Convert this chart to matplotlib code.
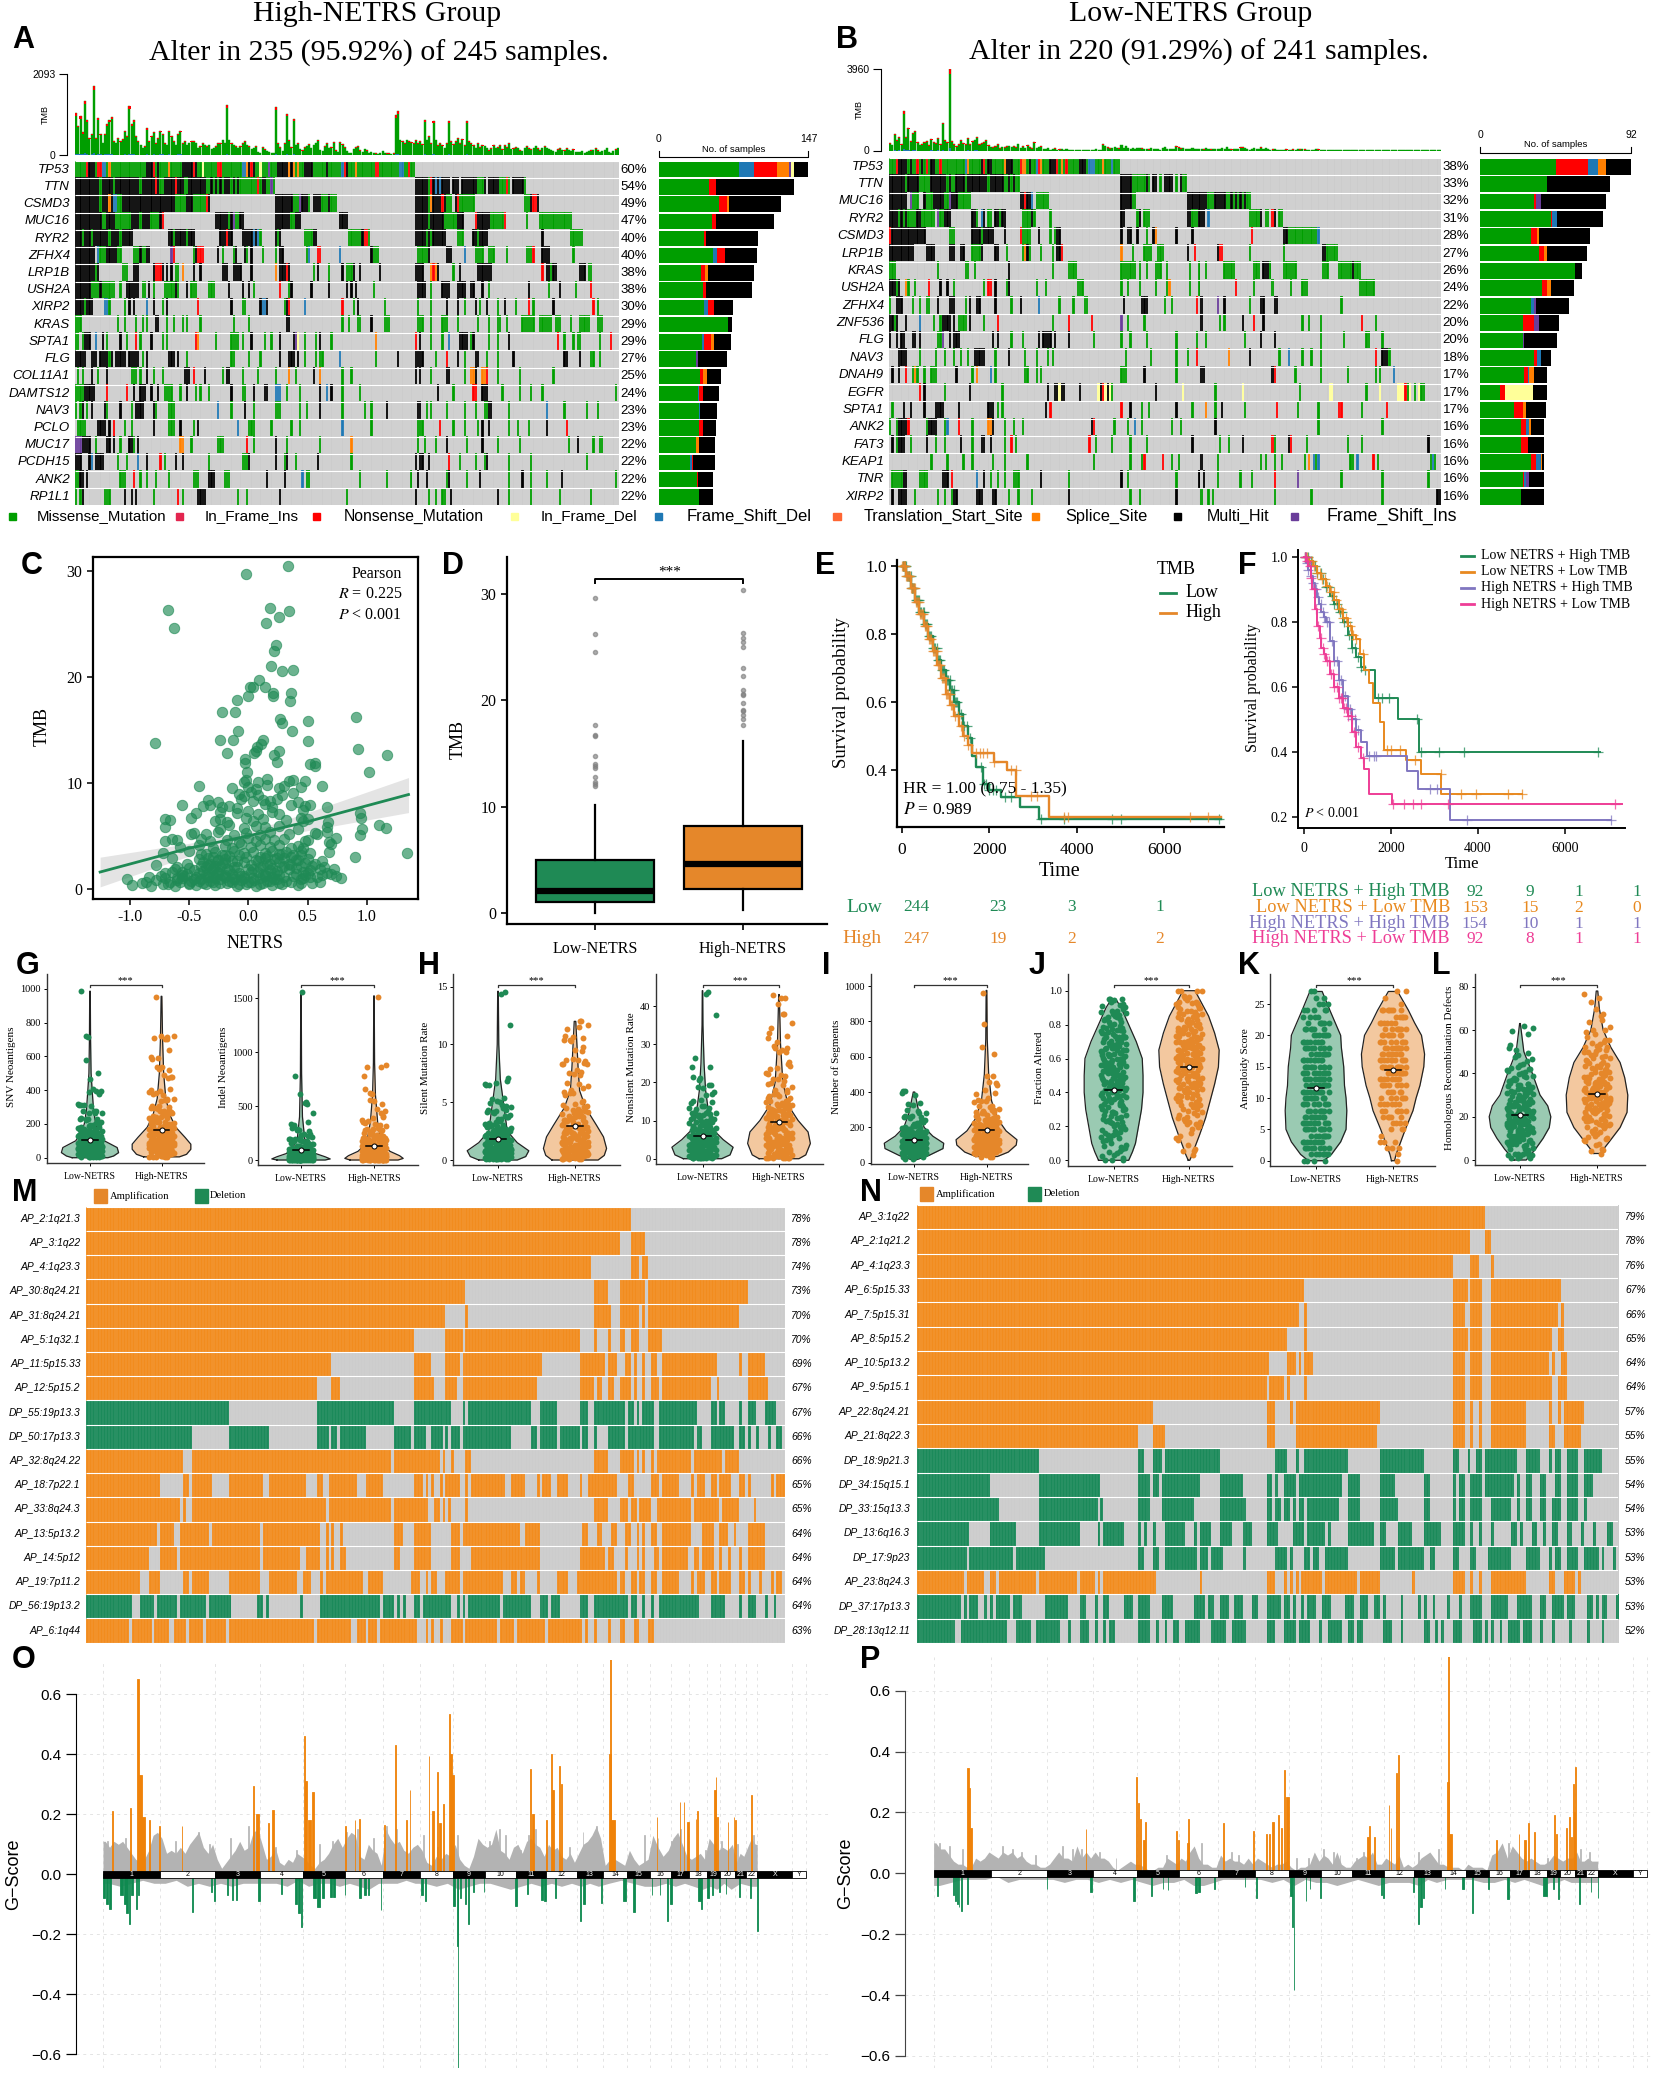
import numpy as np
import matplotlib
matplotlib.use("Agg")
import matplotlib.pyplot as plt
from matplotlib.colors import ListedColormap
from matplotlib.patches import Rectangle

W, H = 1654, 2075
SERIF = "Liberation Serif"
SANS = "Liberation Sans"
GREEN, ORANGE = "#1F8A55", "#E5872A"
PURPLE, PINK = "#8076C0", "#EE3D96"

# ---------- A / B oncoplots ----------
ONCO_COLORS = {"G": "#009E00", "I": "#E3254F", "R": "#FF0000", "Y": "#FFFF99", "B": "#1F78B4",
               "T": "#FF6633", "O": "#FF7F00", "K": "#000000", "P": "#6A3D9A"}
A_GENES = ["TP53", "TTN", "CSMD3", "MUC16", "RYR2", "ZFHX4", "LRP1B", "USH2A", "XIRP2", "KRAS",
           "SPTA1", "FLG", "COL11A1", "DAMTS12", "NAV3", "PCLO", "MUC17", "PCDH15", "ANK2", "RP1L1"]
A_PCT = [60, 54, 49, 47, 40, 40, 38, 38, 30, 29, 29, 27, 25, 24, 23, 23, 22, 22, 22, 22]
A_ROWS = [
 "G0-152 R5 K6-8 R10 R11 B12 B13 O15 K32-34 R35 K37 O42 K48-52 R53 K54 Y57 R64-65 B75 B76 O77 K78 R79 K80 Y83 P87 K91-95 O96 K97 O98 O100 K103-106 K113 B120 R121 K122 O126 R135-136 B146 B147 R150",
 "K0-58 G11 G17 G29 G38 G39 R45 G49 G50 R36 G59-89 K61 K63 K65 K67-69 K71 K73 R82 K84-85 P88 K153-158 G159 R160 K161 B162 K163-168 B164 K170-172 K174-180 G181-183 K184 K186-190 G191-193 R194 G195 K197-201 G202",
 "K0-44 O15 B17 B18 G11 G19 G20 G45-58 K50-52 R59 K60 K90-97 G98-100 K101-104 P101 G105 K107-110 G111-113 K114 G115-117 K153-158 G159 O160 K161-166 R165 G167-169 K171 R172 G173-179 G202-204 K205 R206-207 K208",
 "K0-11 G12-13 K14-17 G18-24 K25-28 G29 K30-33 G34-37 K38 R39 K63-68 G69 K70 P71 G72-73 K74-75 K90-96 G97-98 K99-101 K119-122 K153-158 G159 K160-165 G166-171 K172-174 R180 K181-186 G187-192 R193 G203 G209-223",
 "K0-25 G3 G7 G15 G20 K42-53 G44 G50 K65-67 R68 K69-70 K75-79 K81 B80 B82 G83 K90 G91 K92 G103-106 K107-108 G123-128 K129 R130-131 G132 K153-166 G158 G160 G172-174 K179-180 G181 K182-185 K210 G223-228",
 "K0-8 B10 G11-13 K14-18 G19-20 G26-28 K29 G30-31 K32-33 P43 R44 G53 K54 R55-57 K64 G66 G71 K72 K76 G77 K79 G84 G90 K92-93 G104 B105 R109-110 B119 K133 G134-136 G154-158 K159 K167-169 B175 G180-183 G186-188 G194 G203-205 R206 K210-213 G224",
 "K0-8 G9 K10 G21-23 K26-28 K35 R36-38 K39 K41 K43 G45-46 O48 K53 K56 K66-68 K71-74 K79 O90 K92-94 R95 K96 G107 K109 G114 K120 G122-124 K125 K128 K137 K153-156 O160-162 R161 K163 G170 K173 K181-187 R210 K212-213 G214 K215-216 K227-229 G231-232",
 "K0-6 G7-10 K11 G12-17 G20 K23-28 G30-31 K33 G35 G40-46 K45 K50 G52-54 G60-62 K69 K75 K78 G80 R92 G96 K97 K106 K114 K122 K124 K126 G134 K154-157 G160 K165-168 K172-175 K178-179 K183 G186 K204 G213 K218 G225 R232",
 "K0-3 G4 K5-7 B13-14 G15 G22 K24 K26 B32 K35 G39 K41 R55 K70 G75-76 K83 B84-85 K86 G94 K95 R96 B103 R120 G125 K127 G139 G154 G160 K167 K172 G175 K180 G182 K185 G190 K193 G198 R204 G206 K215 R233 G235",
 "G0-2 G19 G22 G27 G30 G32 K36-37 G41 G44 G48 G50 G56 G71 G78 K95-96 G120 G123 G127-128 K133 G139-141 G154-156 G160 G165-167 G172 G181 G186 G190-191 G194 G201-206 G209-214 G216-218 G223 G227-231 G235-237",
 "G0-1 G3 K4-6 B9 K12 G14 K20 G23 R27 G29 K34 G39 G41 R54 O55 G63 G70-73 G75 K79 G85 G88 K92 K98 P99 Y100 G103 G108 K110 G115 O135 R153 K155 G160 G165 B168 K173-176 G178 K179 G186 G190 K195 R217 G220 G224 G226-227 G236 R241",
 "K0-4 K7-9 K11-14 G15 K16 K18-22 K24-28 G30 K32 K42-44 K46 G50 G70-71 G78 G83 K92 K96-98 K100 G103 G108 G110-111 B119 G135 K145 K153-156 G162 R167 K172 G175 K180-181 G185 G190 K197 K220-221 K227 G232-233 G236",
 "G1 G3 K7 G10 K14 G25-27 G29 K32 G35 G39 K49-51 R53 K58 G66 K68-69 G75 G82 G90 O96 G99 K107 O110 G120 G124 K153 K155 G160 K167-168 G175 O178-179 K180 O183-184 R185 G190 G200 G215",
 "G0-3 K4-8 R14 R23 K26 K29-31 K34 K37 G40-43 G47 K50 G54 G56 G60 K70 G75-76 K80 K85-86 B90-92 G95 G101 K110 B113 K115 G120 G128 K163 G170 R179-180 K183-185 G192 G200 G205 G210 G243",
 "G0 G2 K3 G5 K7 K13 G14 K20 G25 K27-30 K35 G36 G42-44 B64 G70 K76 G80 G90-92 G101 G104 K110 G120 G130 G133 K140 K154-155 G158 G160 G167 G175 G180 G184-185 K186-187 G195 B212 G220 G230 G235",
 "G1-4 K10-13 K15 R17 G22 G25 K35 G42-44 K47 G53 K55 B73 G78-80 G88 G97 G101 B120 G133 G154-156 R164 G170 G175 G181 K183 K186 G195 G199 G204 K212 R221",
 "P0-2 K3-6 G9 K14-15 K17 G20 K24 K25 G26 K28 O47-48 G52 G64-66 R77 G80 K90 G95 G110 O124 G154 G157 G162 K167 G176 K183 G190 G200 G222 K226 G233 G236-237",
 "K0-2 K6 B7 K9-12 G19 G23 B28 K32 R38 G40 K45 K48 G60 G75-77 K78 K90 G94 K95 G99 K109 G124 K153 K155-156 K159 R168 G173 G180 G184 K185 G195 G205 G230",
 "G0-1 K2-3 K5 G20-22 R26 G29 G32 G36 G42 G53-55 K60-62 G67-69 K86 K94 B102 G104-105 G128 G140 G151 K154 K158 G167 K168 G176 K182 G195 K201 G205 G212 K219 G243",
 "G0 G2 K3 G13-15 K22 K25 K27 G35 R46 G48 K55-58 G73 G77 K92 G122 K153 G159 G162 G165-166 K169 K190 G195 G205 G218 G232",
]
A_BAR_CODES = ["G", "B", "R", "O", "P", "Y", "K"]
A_BARS = [[79, 15, 22, 12, 2, 3, 14], [50, 0, 6, 0, 0, 0, 77], [59, 0, 8, 2, 0, 0, 51], [52, 0, 4, 0, 0, 0, 57],
          [45, 0, 2, 0, 0, 0, 51], [53, 4, 8, 0, 0, 0, 32], [42, 0, 4, 3, 0, 0, 45], [44, 0, 3, 0, 0, 0, 45],
          [45, 4, 5, 0, 0, 0, 19], [68, 0, 0, 0, 0, 0, 4], [43, 2, 6, 3, 0, 0, 17], [37, 0, 0, 0, 2, 0, 28],
          [41, 0, 3, 4, 0, 0, 13], [39, 1, 4, 0, 0, 0, 15], [40, 1, 0, 0, 0, 0, 16], [40, 0, 4, 0, 0, 0, 12],
          [37, 0, 0, 3, 0, 0, 15], [31, 2, 1, 0, 0, 0, 21], [38, 0, 1, 0, 0, 0, 14], [40, 0, 0, 0, 0, 0, 13]]
A_TMB = [1080,760,1000,590,1400,900,450,540,1780,450,950,540,320,540,810,900,990,360,320,450,360,410,630,500,1260,810,900,500,360,270,
         180,230,700,360,500,600,300,450,630,540,300,270,630,500,360,270,540,630,300,360,270,320,360,360,320,180,230,300,270,220,
         270,160,180,230,300,300,400,320,1280,400,300,270,230,180,230,300,360,270,230,160,180,230,90,60,200,150,100,70,50,60,
         1230,300,200,110,300,1060,380,200,930,270,300,160,120,200,240,280,180,270,320,380,140,100,220,300,180,200,340,120,90,330,
         280,200,100,50,60,160,200,230,120,90,160,120,60,80,50,40,30,50,100,60,40,40,30,40,1030,1130,400,350,300,400,
         370,330,300,380,300,350,280,900,400,500,300,870,400,250,300,250,180,300,870,350,280,350,450,300,420,250,880,350,300,250,
         180,300,200,260,240,180,120,170,250,180,200,260,150,250,200,300,160,170,200,180,120,100,180,220,170,150,190,240,170,120,
         180,230,190,160,130,110,90,150,170,140,120,170,130,110,150,90,70,80,100,60,70,110,120,130,170,120,80,100,130,180,90,60,110,150,180]
B_GENES = ["TP53", "TTN", "MUC16", "RYR2", "CSMD3", "LRP1B", "KRAS", "USH2A", "ZFHX4", "ZNF536",
           "FLG", "NAV3", "DNAH9", "EGFR", "SPTA1", "ANK2", "FAT3", "KEAP1", "TNR", "XIRP2"]
B_PCT = [38, 33, 32, 31, 28, 27, 26, 24, 22, 20, 20, 18, 17, 17, 17, 16, 16, 16, 16, 16]
B_ROWS = [
 "G0-100 R3 K4-7 K9 R12 K14 R16 K18-19 R22 B33 O34 K40 R41 K43-44 O50 K51-53 R57 O58-59 K61 B64 R65 O66 K70-72 R73 O75 R77 K83-85 B87-89 O93 B97",
 "K0-6 G7 K8-12 G13-17 K18-24 G25 K26 G27-28 K29-32 G33 K34-42 G43 K44-49 G50-56 K52 K54 K101-105 G106-111 K112 G113 K115-116 G118 K120-123 G125 K127 G128-129",
 "K0-7 P9 G10-12 K15 G16-18 K19-23 G24-25 P26 K27-29 G30-35 K57-59 R59 K60-62 B62 G64-69 K101-105 G106-107 K130-138 G139-141 K142-146 G147-157 K149 K151 K153 K155",
 "K0-3 G4 K5 G6 K7 G8-11 K12-13 G14-19 P21 G22-23 K24-26 K36-37 G38 B40 K41 G43-44 K46-47 G48 K49-50 G58-61 K62 G63 G70 K101-102 G108 K109 G111-113 K130-131 G132-134 K135-137 B139 G157-161 K162 G164-165 R167 K168 G170-171",
 "R0 K1-15 G26-28 K36-39 G40 K41-45 K50 R57 G58-61 K65 G70 G72 K73-74 K101 K104-105 K108 G112 K115 O116 K125 K132 R158 K172-173 G174-186 B187",
 "K0-10 K16-19 K26-28 K31-32 G36-39 K40 K46-47 G51 G58 O59 K60 G61 G66 G71 K73-74 R75 O101 G106 G111-114 G117-119 K130 R133 K143 R144-145 G157 G172 K189-190 G191-195",
 "G0-2 G21 G33-34 G37 K52 G71 G78-81 G101-107 G109 G112 G116-118 G121 G131 G135 G138 G146-150 G159-161 K163-165 G166 G172-177 G189-191 G196-201 K202 G203-205",
 "K0-2 G3 K4 O7 G8 G11 R17 K22 K25 G28 G41 R43-44 K46 G51 K52 G64 G68 G82-84 G101 G104 G109 G116 G121 O122 G131 G135 R151 G159 G167 G175 G180-182 G205-211",
 "G0 K3-5 G10 G13 G16-17 K21 K26-28 G33 K35 K38-39 K46 G53 K57 B65 G74 G80 G85-86 K102 K110-112 G120 G123 R134 K136 P143 K146 G157 K162-163 K168-169 G197",
 "K0-1 G2 K3 K7 B13 G19 G22 K23-26 K28 G30-33 K35 G41 R47 G71 R78 R88 P101 G104 G111 K136 G144 G146 K154 R159 K163 G180 G183 G188 R206 G212",
 "K0 K3 K5-6 K10-11 K13 G21-22 P23 K26 K28-30 K45 K47 G53 G58 K65 K67-70 K72 K78 G89 G101 G105 G112 G125 G134 G138 G155 K162 K168 G188 G198 G208-209 G215",
 "K4-7 G13 G20 G24 G28 G31 G34 K37-41 G46 K52 G59 G64 G69 G71 G103 G114 G125 G130 R134 O148 K157 G170 B174 G180 G184 G188 R212 K215-217 G218",
 "K1 K4 R7 G10 O11 G12 G15 G18-20 K29 G36 O38 B44 G46 G59-60 G64 G66 G101-103 K111 G125 K136-137 K167 R168 G177 G188 G200 G212 G214 B220",
 "R13 K15 G24 K35 G49 K69 K72-73 Y74 K75-76 K83 Y91 K92 R93 Y94 K95 Y96 G97 K116 Y128 G142 Y154 G179 Y192-193 G208 Y214 Y222-224 R225 G226 Y227 G229 Y231 G232-233",
 "G1 K6 K9 K15 K20-23 K30 K43-45 G47 G49 K68 R70 R101 K105 G110 G113 K125 G132 O138 G142 K145 G155 R169 G178 G187 R196-197 G206 R217",
 "G0 G3 K4-7 R8 G16 K17-20 G24 B25 R30 G36 O43-44 K45 G50 G54 G58 K88 R89 G98 G104 B107 G110 G123 G127 K142 G187 G215",
 "K1 G3 K4-6 G9 K16 G20 G24 K31 G36 K40-41 K44 G50 R53 G55 R87 G90 G97 G105 G112 K132 G144 G148 K154 R167 G168 K174 R175 G182 G200 G206 K235",
 "G18 G25 G32 G36 G45 G50 G60 G89 G105 G110 R111 R119 G123 G126 K136 G143 G162 G164 G168 G171 G181 O183 B185 G186 B187 G201-202 B204 R211 G213 G236 B237 G238",
 "G1-5 K6-7 G13-16 K23-25 R27 B38 K41 G44 G47 G50 G54-56 K66 G78 K101 G104 G125 K135 K137 G143 G153 G158 R168 P178 G197 G215 G235",
 "K1 K4-7 G11 G21 G24 G27 K28-29 K38-40 K45-46 G52 G56 G62 K78 G105 G109 K125 G136 G139 G141 G168 G184 G215 K239-240",
]
B_BAR_CODES = ["G", "R", "B", "O", "P", "Y", "K"]
B_BARS = [[46, 20, 6, 5, 0, 0, 15], [41, 0, 0, 0, 0, 0, 38], [33, 1, 0, 0, 3, 0, 40], [43, 1, 3, 0, 0, 0, 28],
          [31, 4, 0, 1, 0, 0, 31], [36, 3, 0, 2, 0, 0, 24], [58, 0, 0, 0, 0, 0, 4], [38, 3, 0, 2, 0, 0, 14],
          [31, 0, 2, 0, 1, 0, 20], [26, 7, 0, 0, 3, 0, 12], [26, 0, 0, 0, 1, 0, 20], [33, 2, 2, 0, 0, 0, 6],
          [27, 2, 1, 3, 0, 0, 8], [12, 3, 0, 0, 0, 17, 9], [21, 5, 0, 2, 0, 0, 12], [25, 3, 2, 1, 0, 0, 8],
          [25, 4, 0, 0, 0, 0, 10], [31, 3, 3, 1, 0, 0, 1], [26, 1, 1, 0, 2, 0, 9], [25, 0, 0, 0, 0, 0, 14]]
B_TMB = [350,280,800,500,650,300,1900,650,1100,450,850,950,400,280,300,400,450,250,550,400,350,600,300,1350,500,400,3960,450,300,200,
         300,500,350,300,620,300,450,520,650,300,350,400,500,250,180,150,200,300,100,180,150,200,220,170,200,150,330,120,200,130,
         250,150,100,400,120,180,200,60,90,120,40,60,100,30,50,70,40,60,30,20,40,30,15,30,20,40,25,35,30,20,
         60,30,25,300,230,150,100,140,180,120,100,270,130,220,120,90,130,90,130,110,100,70,90,50,120,60,80,70,40,110,
         180,90,70,60,60,200,150,100,130,80,70,60,130,90,60,70,90,50,110,60,50,60,80,70,60,130,90,170,60,50,
         70,60,90,150,150,120,80,40,60,130,80,90,150,70,120,70,40,50,60,40,30,20,35,50,30,40,50,40,60,50,
         80,50,40,30,20,30,60,50,40,20,30,40,20,30,25,20,15,30,20,25,15,10,20,30,15,20,15,10,15,20,
         10,15,10,20,10,15,10,20,15,10,15,20,15,10,10,20,15,10,15,10,15,20,25,30,20,15,10,20,25,15,10]

# ---------- C scatter ----------
C_LEVEL_Y = [.4, .6, .8, 1.0, 1.2, 1.4, 1.7, 2.0, 2.2, 2.5, 2.8, 3.1, 3.4, 4.0, 4.6, 5.2, 5.8, 6.5, 7.2, 7.8, 8.3, 8.9, 9.6, 10.2]
C_LEVEL_X = [
 [-.98,-.9,-.82,-.72,-.62,-.5,-.44,-.36,-.28,-.18,-.1,-.02,.06,.12,.2,.28,.42,.54],
 [-.68,-.58,-.5,-.42,-.38,-.3,-.24,-.16,-.08,.0,.1,.18,.26,.36,.44],
 [-1.02,-.86,-.78,-.66,-.56,-.48,-.4,-.32,-.24,-.14,-.06,.02,.1,.16,.24,.32,.44,.6],
 [-.7,-.6,-.54,-.46,-.34,-.28,-.2,-.12,-.04,.05,.14,.22,.3,.46,.52],
 [-.84,-.74,-.6,-.52,-.44,-.36,-.3,-.22,-.12,-.04,.04,.12,.2,.26,.38,.48,.58,.74,.78],
 [-.64,-.56,-.42,-.34,-.26,-.2,-.14,-.06,.02,.14,.22,.4,.5,.62,.7],
 [-.7,-.62,-.56,-.46,-.38,-.3,-.26,-.16,-.08,.0,.08,.18,.24,.34,.46,.52,.66,.72],
 [-.5,-.36,-.3,-.24,-.18,-.1,.04,.12,.2,.28,.4,.54,.6],
 [-.78,-.6,-.52,-.4,-.34,-.28,-.22,-.12,.02,.1,.16,.3,.36,.44,.56,.64],
 [-.38,-.32,-.26,-.2,-.14,-.04,.08,.18,.26,.34,.42,.48],
 [-.64,-.42,-.34,-.26,-.2,-.1,-.02,.06,.14,.22,.3,.4,.5,.62],
 [-.4,-.3,-.22,-.16,-.08,.1,.16,.24,.28,.36,.44],
 [-.72,-.5,-.36,-.28,-.2,-.12,-.04,.04,.14,.2,.26,.32,.38,.44,.52,.68],
 [-.58,-.42,-.3,-.2,-.14,-.06,.02,.1,.18,.26,.36,.42,.46,.7],
 [-.7,-.64,-.6,-.4,-.32,-.18,-.08,.0,.06,.14,.22,.3,.48,.5,.68,.74],
 [-.48,-.46,-.36,-.26,-.12,-.02,.1,.18,.34,.56,.58,.66,.94],
 [-.7,-.24,-.16,-.04,.06,.14,.26,.42,.66,.96,1.1,1.16],
 [-.7,-.66,-.48,-.28,-.24,-.18,-.02,.04,.12,.32,.44,.46,.5,.67,.95],
 [-.44,-.24,-.1,.0,.08,.2,.26,.46,.94],
 [-.56,-.38,-.32,-.22,-.16,-.1,.14,.2,.36,.48,.52,.66],
 [-.34,-.26,-.06,.04,.12,.18,.24,.42],
 [-.08,-.04,.02,.08,.38,.28],
 [-.42,-.14,.0,.06,.16,.26,.3,.44,.62],
 [-.04,-.02,.08,.16,.34,.38,.48]]
C_LEVEL_SHIFT = [0, .15, -.1, .05, -.15, .2, -.05, .1]
C_TOP_X = [-.68,-.63,-.79,-.02,.33,.18,.34,.26,.15,.23,.22,.19,.28,.38,.09,.01,.04,.14,.21,.21,.36,.35,-.1,-.22,-.11,
           0,.27,.28,.5,.91,.37,-.09,-.24,-.13,.12,.11,.5,.07,.06,.26,.05,.92,-.18,.22,1.17,-.03,-.03,.24,.52,.56,.56,-.01,1.02,1.34,.9]
C_TOP_Y = [26.3,24.6,13.8,29.7,30.4,26.5,26.2,25.6,25.1,23,22.4,21,20.5,20.6,19.7,19,19,19,18.5,18.2,18.5,17.7,17.8,16.7,16.7,
           18.2,16,15.6,15.8,16.2,14.9,14.9,14,14,14,13.7,13.9,13.4,13,13,12.8,13.2,12.8,12.6,12.6,12.2,11.9,12,11.8,11.9,11.6,11,11,3.4,3.0]
C_FIT_X = [-1.25, -.5, 0, .5, 1.35]
C_FIT_Y = [1.6, 3.85, 5.0, 6.35, 8.9]
C_CI_LO = [.2, 3.1, 4.4, 5.5, 7.2]
C_CI_HI = [3.0, 4.3, 5.4, 7.2, 10.5]

# ---------- D box ----------
D_LABELS = ["Low-NETRS", "High-NETRS"]
D_Q1, D_MED, D_Q3 = [1.0, 2.3], [2.1, 4.6], [5.0, 8.2]
D_WLO, D_WHI = [0, .3], [10.2, 16.2]
D_FLIERS = [[11.9, 12.1, 12.3, 12.8, 13.6, 13.8, 14, 14.8, 16.6, 16.7, 17.7, 24.5, 26.2, 29.6],
            [17.7, 18.2, 18.6, 19, 19.1, 19.7, 20.5, 20.6, 21, 22.3, 23, 25, 25.5, 25.9, 26.3, 30.4]]

# ---------- E / F survival ----------
E_LOW_T = [0,100,200,300,400,500,600,700,800,900,1000,1100,1200,1300,1400,1500,1600,1700,1850,2000,2270,2700,3140,7300]
E_LOW_S = [1,.97,.935,.90,.865,.83,.795,.76,.725,.695,.665,.635,.60,.565,.53,.495,.44,.41,.36,.34,.32,.29,.255,.255]
E_HIGH_T = [0,100,200,300,400,500,600,700,800,900,1000,1100,1200,1300,1400,1500,1600,2100,2400,2620,3360,7300]
E_HIGH_S = [1,.97,.935,.895,.86,.825,.785,.75,.71,.67,.625,.59,.56,.53,.50,.475,.45,.425,.40,.323,.262,.262]
E_LOW_CENS = [15,30,45,60,75,90,110,130,150,170,195,220,240,260,285,310,335,360,390,420,445,470,495,520,550,580,610,640,670,700,730,760,790,820,850,880,910,940,970,1000,1030,1060,1090,1120,1150,1180,1210,1240,1270,1300,1360,1420,1480,1550,1800,1880,1920,2000,2080,2150,2350,2500,3170,3700,4800,5000,7250]
E_HIGH_CENS = [10,20,35,50,65,80,100,120,140,160,180,200,225,250,270,290,315,340,365,390,415,440,465,490,520,550,580,610,640,670,700,730,760,790,820,850,880,910,940,970,1000,1030,1060,1090,1120,1150,1220,1280,1350,1430,1500,1700,1780,1850,1950,2100,2500,2600,2950,3100,3700,3800,6600,7000]
F_GREEN_T = [0,100,200,300,400,500,600,700,800,900,1000,1100,1200,1300,1375,1625,2160,2650,6800]
F_GREEN_S = [1,.985,.97,.95,.93,.905,.88,.855,.83,.80,.76,.72,.69,.66,.65,.565,.50,.40,.40]
F_ORANGE_T = [0,100,200,300,400,500,600,700,800,900,1000,1100,1190,1280,1375,1500,1590,1750,1840,2340,2690,3160,5000]
F_ORANGE_S = [1,.985,.97,.95,.93,.91,.89,.865,.84,.81,.785,.76,.745,.70,.65,.61,.55,.49,.405,.375,.33,.27,.27]
F_PURPLE_T = [0,50,100,150,200,250,300,350,400,450,500,600,700,800,900,1000,1100,1200,1300,1440,2375,2625,3350,7050]
F_PURPLE_S = [1,.98,.96,.94,.92,.90,.875,.855,.83,.815,.80,.74,.68,.62,.57,.53,.50,.465,.43,.385,.34,.285,.19,.19]
F_PINK_T = [0,50,100,150,190,250,310,360,400,450,500,600,700,800,900,1000,1100,1190,1300,1375,1500,2030,7300]
F_PINK_S = [1,.985,.97,.935,.90,.84,.785,.75,.72,.70,.68,.64,.60,.565,.535,.51,.46,.415,.38,.345,.27,.238,.238]
F_GREEN_CENS = [20,50,90,120,170,250,300,380,440,500,570,640,700,760,820,870,930,980,1040,1100,1170,1250,1320,1400,1700,1800,1950,2600,2680,3100,3680,6750]
F_ORANGE_CENS = [30,70,120,180,240,300,360,420,480,540,610,680,740,800,850,900,970,1050,1120,1200,1350,1900,2000,2200,2550,3150,3600,3950,4700,5000]
F_PURPLE_CENS = [20,60,100,150,200,280,330,380,430,470,530,580,640,700,750,800,850,900,950,1000,1050,1100,1170,1250,1500,1600,1650,2900,3050,3750,7050]
F_PINK_CENS = [15,40,80,130,170,220,270,330,380,430,470,520,570,620,660,700,750,800,840,880,930,970,1020,1080,1160,1250,1350,2050,2300,2500,2700,3300,7150]

# ---------- G-L violins ----------
V_NAMES = ["SNV Neoantigens", "Indel Neoantigens", "Silent Mutation Rate", "Nonsilent Mutation Rate", "Number of Segments",
           "Fraction Altered", "Aneuploidy Score", "Homologous Recombination Defects"]
V_YTICKS = [[0,200,400,600,800,1000], [0,500,1000,1500], [0,5,10,15], [0,10,20,30,40], [0,200,400,600,800,1000],
            [0,.2,.4,.6,.8,1.0], [0,5,10,15,20,25], [0,20,40,60,80]]
V_MEANS = [[105,162], [90,128], [1.8,2.95], [5.9,9.7], [128,183], [.415,.55], [11.6,14.4], [21,30.5]]
SHAPE_Y = [
 [[0,10,30,60,100,150,200,280,400,500,700,985], [5,20,50,80,120,180,250,350,500,700,955]],
 [[0,10,30,60,100,200,400,800,1560], [0,15,40,80,130,200,350,600,900,1520]],
 [[0,.3,.8,1.5,2.5,4,5.5,7,10,14.6], [0,.4,1,2,3,4.5,6,8,10,12]],
 [[0,1,3,5,8,12,18,25,35,44], [0,1,4,7,10,14,20,30,43]],
 [[15,40,80,110,150,200,280,400], [35,60,100,130,180,250,350,500,700,975]],
 [[0,.05,.1,.2,.3,.4,.5,.6,.7,.8,.9,.95], [0,.03,.08,.15,.25,.35,.45,.55,.65,.75,.85,.95,1.0]],
 [[0,1,3,5,8,10,12,15,18,20,22,24,27], [0,1,3,5,8,10,12,15,17,20,22,24,27]],
 [[0,5,10,15,20,25,30,40,50,60,63], [3,8,15,22,30,38,45,52,60,70,78]]]
SHAPE_W = [
 [[.25,.33,.40,.38,.2,.12,.08,.05,.03,.015,.008,.004], [.25,.35,.41,.41,.33,.2,.12,.06,.03,.015,.005]],
 [[.33,.40,.33,.2,.12,.05,.02,.008,.003], [.33,.40,.35,.22,.14,.09,.05,.02,.008,.003]],
 [[.25,.36,.40,.25,.12,.09,.06,.03,.01,.004], [.3,.38,.41,.37,.28,.14,.06,.04,.025,.01]],
 [[.25,.36,.4,.27,.12,.08,.04,.02,.006,.003], [.26,.35,.41,.38,.25,.12,.05,.02,.004]],
 [[.02,.2,.40,.41,.26,.14,.07,.01], [.15,.3,.41,.42,.27,.15,.07,.03,.01,.005]],
 [[.2,.25,.29,.33,.37,.39,.39,.38,.30,.2,.1,.03], [.01,.04,.08,.14,.22,.28,.34,.39,.40,.34,.26,.14,.08]],
 [[.1,.2,.32,.39,.40,.39,.37,.36,.33,.32,.25,.18,.08], [.02,.04,.1,.16,.26,.3,.35,.4,.41,.37,.28,.2,.06]],
 [[.08,.2,.3,.38,.40,.36,.26,.16,.05,.015,.005], [.04,.15,.3,.39,.40,.36,.3,.18,.08,.03,.01]]]
PTS_V = [
 [[5,15,25,35,45,55,65,75,85,95,110,125,140,160,180,200,230,270,310,380,400,465,505,570,715,720,985],
  [5,20,35,50,65,80,95,110,130,150,170,190,210,240,270,300,340,380,400,480,530,590,640,710,955]],
 [[2,10,20,35,50,70,90,110,130,160,190,230,280,340,420,530,600,780,1560],
  [2,12,25,40,60,80,100,130,160,190,220,260,300,350,400,450,540,620,670,770,860,1525]],
 [[.1,.3,.5,.7,.9,1.1,1.4,1.7,2,2.4,2.8,3.2,3.7,4.2,4.7,5.2,6.5,7,11.9,14.2,14.6],
  [.1,.4,.7,1,1.3,1.7,2.1,2.5,3,3.5,4,4.5,5,5.8,6.5,7.5,8.5,9.5,10.5,11.5,12]],
 [[.3,1,2,3,4,5,6,7,8,9,10,11,12,13.5,15,17,19,21,24,26,38,43,44],
  [.3,1.5,3,4.5,6,7.5,9,10.5,12,13.5,15,17,19,21,23,25,28,30,32,35,38,41,43]],
 [[20,40,60,80,100,120,140,160,180,200,230,260,290,330,390,405],
  [35,60,80,100,120,140,160,180,200,225,250,280,310,350,400,450,490,600,665,780,975]],
 [[0,.05,.1,.15,.2,.25,.3,.35,.4,.45,.5,.55,.6,.65,.7,.75,.8,.85,.9,.95],
  [.03,.08,.14,.2,.25,.3,.35,.4,.45,.5,.55,.6,.65,.7,.75,.8,.85,.9,.95,1.0]],
 [[0,1,2,3,4,5,6,7,8,9,10,11,12,13,14,15,16,17,18,19,20,21,22,23,24,25,26,27],
  [0,1,2,3,4,5,6,7,8,9,10,11,12,13,14,15,16,17,18,19,20,21,22,23,24,25,26,27]],
 [[1,3,6,9,12,15,18,21,24,27,30,33,36,39,42,45,48,52,58,62],
  [3,6,10,14,18,22,26,30,34,38,42,46,50,54,58,62,66,70,73,78]]]
PTS_N = [
 [[9,12,13,14,14,12,11,10,9,8,10,9,8,8,7,6,6,6,5,3,3,1,1,1,1,1,1], [8,10,12,14,14,14,14,13,12,11,10,10,9,8,8,7,5,4,3,4,4,3,1,6,1]],
 [[25,30,25,20,18,14,12,10,9,8,7,6,5,3,1,3,1,1,1], [18,25,22,20,16,14,12,12,10,9,8,7,6,5,3,3,3,2,1,1,3,1]],
 [[12,18,20,18,15,13,13,11,10,9,8,6,6,6,5,4,4,2,1,1,1], [10,14,16,15,14,13,12,11,10,9,8,7,3,5,4,5,8,3,6,3,2]],
 [[15,18,18,16,14,11,10,9,8,7,7,6,6,5,4,3,4,3,2,1,1,1,1], [12,15,16,16,14,13,12,12,11,10,9,6,5,5,4,3,4,3,3,2,2,2,2]],
 [[3,12,20,24,26,20,16,13,10,9,7,6,4,3,2,2], [5,14,16,18,17,15,14,12,11,10,8,7,6,5,3,3,2,1,1,1,1]],
 [[5,6,7,8,9,10,11,12,13,14,15,15,15,15,14,13,10,9,7,5], [2,3,4,6,7,8,10,11,13,14,16,17,17,16,14,12,10,9,7,4]],
 [[4,7,8,9,8,10,10,9,8,9,10,11,11,10,10,10,9,8,8,8,7,6,6,4,5,3,2,2], [1,1,3,3,1,3,4,5,6,6,6,5,7,8,9,10,10,9,9,8,8,7,6,5,7,1,1,2]],
 [[6,6,9,11,13,15,15,15,13,12,10,9,8,7,6,4,3,3,2,2], [2,4,6,9,12,14,16,17,15,13,11,9,8,7,4,3,3,1,2,1]]]
JITTER = [-.12,.05,-.03,.13,-.08,.10,.0,-.15,.07,-.05,.15,.02,-.1,.11,-.02,.08,-.13,.04,-.17,.17,-.06,.12,-.01,-.14,.09]
Y_SPREAD = [0,.5,-.3,.25,-.45,.4,-.15,.1,-.35,.3,-.05]

# ---------- M / N arm heatmaps ----------
M_LABELS = ["AP_2:1q21.3","AP_3:1q22","AP_4:1q23.3","AP_30:8q24.21","AP_31:8q24.21","AP_5:1q32.1","AP_11:5p15.33","AP_12:5p15.2","DP_55:19p13.3",
            "DP_50:17p13.3","AP_32:8q24.22","AP_18:7p22.1","AP_33:8q24.3","AP_13:5p13.2","AP_14:5p12","AP_19:7p11.2","DP_56:19p13.2","AP_6:1q44"]
M_PCT = [78,78,74,73,70,70,69,67,67,66,66,65,65,64,64,64,64,63]
M_RUNS = [
 "0-191", "0-187 191-196", "0-177 191-194 195-197", "0-133 178-183 187-194 194-196 197-232", "0-126 133-134 178-184 187-194 195-196 197-229",
 "0-115 126-132 133-173 178-179 183-184 187-189 191-194 197-202",
 "0-86 115-121 126-131 132-160 173-182 183-186 189-191 192-193 195-196 198-200 202-221 229-230 232-238",
 "0-81 86-89 115-122 126-130 132-158 173-178 179-181 183-185 187-191 192-193 195-196 198-201 202-219 221-222 232-239",
 "0-50 81-108 115-128 132-133 134-156 159-165 173-176 178-189 190-192 193-194 195-199 201-214 219-221 222-224 229-230 232-235 238-242",
 "0-37 50-64 81-85 86-88 89-98 108-114 115-119 121-125 126-127 128-131 132-149 156-158 159-165 166-173 174-176 178-179 183-189 190-196 196-199 201-213 214-216 219-227 229-231 232-233 235-236 239-240 242-244",
 "0-34 37-107 108-124 125-126 128-129 133-135 178-179 179-183 187-192 193-194 195-196 198-199 200-212 213-223 224-229",
 "0-26 34-36 37-44 50-62 64-77 81-83 85-95 98-104 115-118 119-120 121-122 124-125 126-131 133-134 135-147 149-154 158-159 160-163 165-169 173-174 176-186 190-192 198-201 202-208 212-213 214-217 219-221 222-226 229-231 232-233 240-241 242-245",
 "0-33 34-35 37-84 85-107 108-120 122-124 125-126 127-128 133-134 178-183 187-190 191-193 194-195 195-198 200-212 213-222 223-229 234-235",
 "0-25 26-31 33-43 44-61 62-82 84-85 86-87 89-90 108-111 115-121 128-131 132-152 154-159 174-176 179-181 184-186 189-191 193-194 195-196 198-200 202-212 216-220 222-225 227-228 232-238",
 "0-22 26-32 33-61 62-64 64-75 77-82 84-85 86-87 89-91 108-110 115-121 128-131 135-159 173-182 183-185 189-190 193-194 195-196 199-201 202-211 213-215 216-220 222-223 225-226 229-230 232-238",
 "0-19 22-26 34-36 37-43 50-61 64-74 76-79 82-83 84-97 99-104 114-117 119-120 121-123 126-131 132-146 149-151 152-154 158-159 165-169 172-186 187-189 191-193 194-196 198-200 202-208 212-213 214-217 219-221 222-226 229-231 232-233 236-237 240-241 242-244",
 "0-16 19-24 25-32 33-42 43-51 60-62 63-64 75-76 82-103 104-108 109-110 111-112 115-117 118-128 130-131 132-133 134-145 146-156 159-162 163-166 173-176 178-190 191-193 195-196 198-199 201-215 219-222 222-224 229-230 232-235 238-239 241-242",
 "0-15 16-23 24-29 31-35 36-41 42-49 50-60 60-64 64-80 81-93 95-98 99-102 103-116 119-120 121-122 124-125 128-132 133-144 145-150 151-161 162-174 175-176 178-179 183-184 187-189 192-194 197-199"]
N_LABELS = ["AP_3:1q22","AP_2:1q21.2","AP_4:1q23.3","AP_6:5p15.33","AP_7:5p15.31","AP_8:5p15.2","AP_10:5p13.2","AP_9:5p15.1","AP_22:8q24.21",
            "AP_21:8q22.3","DP_18:9p21.3","DP_34:15q15.1","DP_33:15q13.3","DP_13:6q16.3","DP_17:9p23","AP_23:8q24.3","DP_37:17p13.3","DP_28:13q12.11"]
N_PCT = [79,78,76,67,66,65,64,64,57,55,55,54,54,53,53,53,53,52]
N_RUNS = [
 "0-195", "0-190 195-197", "0-184 190-193 197-198", "0-133 184-189 190-194 197-221", "0-131 133-134 184-188 190-194 197-220 221-222",
 "0-127 133-134 184-189 190-194 197-218 220-222", "0-121 127-130 131-132 133-136 184-188 190-194 197-217 218-219 221-223",
 "0-120 121-126 127-128 133-134 184-188 190-194 197-218 220-223", "0-81 120-123 128-129 130-159 184-188 190-191 193-194 197-209 217-218 220-221 222-229",
 "0-76 81-85 120-123 130-158 184-188 190-191 193-194 197-209 217-219 222-228",
 "0-42 76-78 81-84 85-104 123-127 130-131 133-148 159-174 184-186 189-190 192-194 195-206 209-214 217-218 219-221 223-227 229-235",
 "0-25 42-63 76-80 81-83 84-97 104-112 120-122 123-124 126-130 131-146 148-152 159-164 174-176 184-185 186-188 190-194 195-205 206-207 209-211 214-216 219-221 223-227 229-232",
 "0-28 42-62 63-64 76-80 84-95 104-113 120-122 123-125 126-128 129-130 131-133 134-145 148-152 159-165 174-176 184-185 186-188 190-194 197-204 206-207 209-211 214-216 218-221 223-227 229-230",
 "0-18 25-34 42-56 62-63 64-71 76-77 78-79 81-82 85-92 95-96 97-101 104-108 112-115 120-124 129-133 134-140 141-142 148-157 159-161 165-170 174-180 184-188 190-191 193-194 197-198 204-206 207-208 211-213 215-216 218-220 223-225 228-229 232-233 237-239",
 "0-17 18-33 34-44 76-78 81-83 85-96 97-100 101-105 112-113 123-127 128-129 133-135 136-138 140-148 159-164 165-174 176-178 184-186 190-192 196-204 209-214 217-218 219-221 223-227 229-234 235-236 239-240",
 "0-16 17-23 25-27 28-41 42-55 56-61 62-63 64-82 97-98 120-123 126-127 128-129 130-131 132-139 140-151 152-159 170-171 184-188 190-191 193-194 197-209 217-219 222-226 227-228",
 "0-15 16-17 18-21 23-24 25-26 27-32 33-36 44-52 56-58 61-62 64-66 71-74 76-80 84-88 95-99 100-102 104-107 109-112 115-117 120-125 126-128 129-130 132-133 134-137 139-142 147-150 152-155 157-159 160-161 166-167 172-173 174-175 177-178 182-183 186-187 190-194 197-203 206-211 214-216 218-222 223-226 230-232 233-234 235-237 240-241",
 "0-13 15-31 34-39 41-49 52-53 56-59 61-62 64-65 66-68 76-80 82-83 85-86 88-90 92-97 101-106 108-113 120-123 126-130 131-135 138-139 141-146 148-150 151-153 160-163 166-167 174-176 178-179 180-181 184-187 191-194 195-196 197-198 200-201 203-207 208-211 214-215 218-219 224-225 230-231 235-236"]

# ---------- O / P G-score ----------
CHROM_NAMES = [str(i) for i in range(1, 23)] + ["X", "Y"]
CHROM_LEN = [249,243,198,191,181,171,159,146,141,135,135,133,115,107,102,90,81,78,59,63,48,51,155,59]
O_GRAY_AMP = [[.11,.09,.11,.10,.11,.09,.07,.05,.04,.05,.08,.13,.14],[.12,.07,.08,.07,.09,.07,.10,.12,.14,.09,.07,.10],
 [.05,.02,.04,.06,.08,.11,.08,.09,.14,.15],[.10,.05,.06,.09,.04,.03,.05,.04,.07,.06],[.05,.03,.02,.04,.05,.07,.10,.12,.09],
 [.12,.14,.13,.06,.05,.10,.08,.07,.03],[.15,.12,.10,.11,.08,.07,.09,.10],[.08,.04,.03,.06,.05,.07,.06],[.10,.05,.03,.02,.06,.12,.10],
 [.09,.10,.15,.08,.07,.05,.09],[.10,.07,.11,.12,.10,.09,.06],[.10,.08,.09,.06,.05,.07,.04],[.07,.10,.11,.13,.16,.12],[.03,.05,.05,.04,.03],
 [.08,.05,.03,.04,.05],[.13,.09,.06,.08],[.12,.14,.10,.06],[.05,.06,.07,.05],[.12,.10,.08],[.09,.08,.10],[.04,.07,.06],[.09,.12,.10]]
O_GRAY_DEL = [[.03,.04,.03,.02,.03],[.03,.02,.04,.03,.04],[.03,.04,.03,.03],[.03,.03,.04,.02],[.04,.03,.03,.04],[.03,.04,.05,.03],[.03,.03,.02,.03],
 [.03,.04,.03],[.05,.04,.03],[.03,.04,.05],[.04,.03,.04],[.03,.04,.03],[.04,.03,.04],[.03,.02],[.03,.04],[.04,.03],[.04,.03],[.04,.05],[.04,.05],[.03,.05],[.03],[.04]]
O_SPIKE_POS = [20,60,100,250,320,420,470,560,640,760,850,950,1010,1070,1120,1190,1245,1290,1410,1470,1560,1640,1700,1745,1770,1835,1870,1900,2050,2110,2170,2380,2440,2500,2540,2650,2720,2790,2860]
O_SPIKE_H = [.11,.10,.12,.14,.11,.14,.10,.12,.16,.09,.08,.10,.11,.14,.15,.12,.16,.15,.13,.09,.13,.07,.11,.15,.13,.08,.13,.15,.09,.14,.16,.13,.12,.11,.15,.08,.11,.10,.13]
O_AMP_POS = [42,121,154,165,175,205,247,347,663,680,728,747,884,893,908,924,1068,1108,1129,1238,1287,1333,1350,1433,1450,1471,1482,1496,1522,1529,1538,1880,1892,1950,1973,1980,2006,2015,2232,2230,2240,2436,2536,2553,2571,2606,2615,2695,2690,2702,2748,2774,2781,2851]
O_AMP_H = [.21,.22,.65,.33,.19,.18,.16,.16,.295,.2,.17,.215,.46,.31,.18,.275,.16,.18,.185,.165,.43,.18,.28,.395,.21,.34,.17,.235,.535,.40,.33,.35,.20,.18,.40,.28,.36,.30,.72,.40,.18,.19,.24,.24,.175,.185,.21,.325,.28,.19,.175,.19,.18,.265]
O_AMP_W = [5,3,12,10,15,4,3,2,6,14,4,10,5,8,12,8,4,3,3,5,5,6,3,3,8,3,8,3,3,8,8,4,8,3,5,8,3,5,5,10,22,3,2,2,8,2,3,4,6,3,2,3,3,3]
O_DEL_POS = [5,19,30,81,95,105,116,128,147,156,393,477,489,547,570,586,686,784,849,861,872,931,947,966,1001,1017,1063,1129,1152,1168,1222,1401,1419,1543,1557,1561,1571,1594,1606,1629,1675,1815,1866,1931,1943,1990,2099,2115,2192,2292,2334,2413,2448,2483,2497,2622,2632,2660,2681,2711,2739,2799,2846,2876]
O_DEL_H = [.08,.10,.115,.07,.10,.13,.165,.07,.115,.07,.125,.06,.09,.07,.085,.085,.09,.065,.1,.13,.175,.08,.11,.08,.075,.075,.07,.08,.07,.07,.12,.07,.09,.105,.24,.66,.08,.1,.165,.06,.06,.105,.065,.085,.09,.08,.155,.1,.095,.09,.125,.07,.07,.155,.10,.09,.115,.08,.07,.06,.065,.075,.08,.19]
O_DEL_W = [8,8,8,10,8,6,4,8,2,2,2,8,6,2,6,6,6,2,10,6,4,12,10,8,8,8,2,8,8,6,4,8,6,6,3,2,4,5,2,4,2,8,2,10,6,4,3,10,2,15,12,2,2,3,6,10,5,8,4,6,2,4,4,3]
P_GRAY_AMP = [[.10,.08,.08,.06,.04,.03,.03,.02,.02,.05,.04,.05,.07],[.06,.05,.07,.06,.07,.05,.06,.04,.03,.03,.02,.02],
 [.03,.05,.07,.05,.05,.04,.09,.05,.07,.05],[.07,.05,.05,.04,.02,.01,.02,.03,.04,.03],[.03,.02,.01,.01,.02,.02,.05,.04,.03],
 [.05,.04,.07,.09,.05,.03,.03,.02,.02],[.06,.04,.05,.04,.04,.03,.05,.03],[.05,.04,.03,.02,.03,.03,.04],[.02,.01,.02,.02,.03,.07,.04],
 [.06,.05,.03,.07,.03,.02,.02],[.04,.05,.06,.05,.07,.03,.03],[.05,.04,.03,.06,.02,.03,.02],[.03,.05,.06,.07,.05,.03],[.03,.02,.02,.02,.01],
 [.03,.02,.02,.02,.01],[.06,.07,.1,.05],[.09,.07,.05,.04],[.05,.04,.03,.03],[.04,.06,.05],[.04,.05,.05],[.07,.04,.04],[.05,.04,.04]]
P_GRAY_DEL = [[.04,.03,.02,.02,.02],[.01,.03,.02,.02,.02],[.02,.03,.02,.02],[.03,.02,.03,.02],[.03,.04,.03,.03],[.02,.04,.04,.03],[.02,.02,.02,.02],
 [.02,.03,.02],[.04,.02,.03],[.03,.04,.03],[.02,.03,.04],[.03,.03,.03],[.04,.02,.03],[.02,.02],[.02,.03],[.03,.02],[.03,.02],[.03,.04],[.03,.03],[.02,.03],[.03],[.03]]
P_SPIKE_POS = [25,70,125,300,340,380,440,560,600,640,720,790,1010,1130,1160,1290,1320,1570,1625,1690,1730,1760,1830,1860,2100,2150,2185,2490,2510,2560,2660,2800,2840]
P_SPIKE_H = [.10,.09,.08,.09,.08,.07,.06,.09,.08,.08,.07,.05,.06,.08,.10,.07,.06,.05,.05,.08,.07,.06,.05,.07,.07,.06,.08,.10,.08,.06,.05,.08,.07]
P_AMP_POS = [149,154,163,660,880,887,896,917,910,1052,1062,1105,1103,1254,1385,1440,1456,1470,1495,1506,1520,1532,1889,1882,1910,1972,1981,2013,2005,2231,2226,2240,2437,2536,2563,2577,2603,2690,2697,2742,2754,2763,2772,2781,2775]
P_AMP_H = [.345,.28,.15,.145,.315,.23,.18,.17,.11,.14,.11,.18,.1,.165,.14,.13,.13,.17,.19,.15,.34,.25,.155,.12,.12,.225,.15,.39,.33,.72,.3,.13,.11,.13,.11,.165,.135,.19,.13,.15,.185,.12,.295,.35,.2]
P_AMP_W = [6,10,10,2,3,4,6,4,10,3,5,3,7,4,2,5,5,6,3,6,3,10,3,6,2,3,4,4,2,5,8,12,2,2,8,5,2,3,3,2,2,4,3,3,6]
P_DEL_POS = [16,87,94,103,110,119,147,491,683,867,942,993,1016,1137,1149,1215,1348,1399,1548,1555,1561,1612,1630,1676,1940,1949,2077,2100,2112,2120,2215,2293,2334,2403,2488,2648,2685,2708,2797,2846,2878]
P_DEL_H = [.075,.07,.09,.10,.11,.125,.10,.05,.06,.09,.075,.05,.055,.065,.06,.05,.045,.08,.075,.175,.385,.09,.05,.08,.07,.08,.06,.165,.11,.08,.05,.05,.13,.05,.085,.075,.05,.085,.1,.06,.08]
P_DEL_W = [2,4,4,4,4,4,2,2,8,10,4,2,2,10,6,5,2,4,6,3,2,2,4,2,6,4,4,3,8,5,2,5,8,2,6,14,2,4,2,2,2]


def T(x, y, s, **kw):
    kw.setdefault("va", "center")
    kw.setdefault("family", SERIF)
    return fig.text(x / W, 1 - y / H, s, **kw)


def pax(x0, x1, top, bot, **kw):
    return fig.add_axes([x0 / W, 1 - bot / H, (x1 - x0) / W, (bot - top) / H], **kw)


def linlim(v0, p0, v1, p1, pa, pb):
    k = (v1 - v0) / (p1 - p0)
    return v0 + (pa - p0) * k, v0 + (pb - p0) * k


def style(ax, lw=1.5, color="black"):
    for s in ("top", "right"):
        ax.spines[s].set_visible(False)
    for s in ("left", "bottom"):
        ax.spines[s].set_linewidth(lw)
        ax.spines[s].set_color(color)


fig = plt.figure(figsize=(W / 100, H / 100), dpi=100, facecolor="white")

LETTERS = {"A": (12, 40), "B": (836, 40), "C": (21, 566), "D": (442, 566), "E": (815, 566), "F": (1238, 566),
           "G": (16, 966), "H": (418, 966), "I": (822, 966), "J": (1029, 966), "K": (1238, 966), "L": (1432, 966),
           "M": (12, 1193), "N": (860, 1193), "O": (12, 1660), "P": (860, 1660)}
for k, (x, y) in LETTERS.items():
    T(x, y, k, family=SANS, weight="bold", fontsize=22)


def oncoplot(genes, pct, rows, bars, codes, tmb, n, xa, xb, ttop, tbot, htop, hbot, bx0, bx1, bmax, bary, tmbmax, title, tx1, tx2, ty2):
    T(tx1, 14, title[0], ha="center", fontsize=21.5)
    T(tx2, ty2, title[1], ha="center", fontsize=21.5)
    ax = pax(xa, xb, ttop, tbot)
    t = np.array(tmb, float)
    x = np.arange(len(t)) + .5
    big = t > 500
    ax.bar(x, t, .9, color="#009E00", edgecolor="#009E00", lw=.3)
    ax.bar(x[big], t[big] * .03, 1, color="#1F78B4", lw=0)
    ax.bar(x, t * .06, 1, bottom=t * .94, color="#FF0000", lw=0)
    ax.set_xlim(0, n)
    ax.set_ylim(0, tmbmax)
    ax.patch.set_alpha(0)
    ax.set_xticks([])
    for s in ("top", "right", "bottom"):
        ax.spines[s].set_visible(False)
    ax.spines["left"].set_position(("outward", 6))
    ax.spines["left"].set_linewidth(.8)
    ax.set_yticks([0, tmbmax])
    ax.set_yticklabels(["0", str(tmbmax)], family=SANS, fontsize=7.5)
    ax.tick_params(axis="y", length=6, width=.8, pad=2)
    T(xa - 30, (ttop + tbot) / 2, "TMB", family=SANS, fontsize=6.5, rotation=90, ha="center")
    codes_all = ["-"] + list(ONCO_COLORS)
    cmap = ListedColormap(["#CCCCCC"] + list(ONCO_COLORS.values()))
    mat = np.zeros((len(rows), n), int)
    for r, s in enumerate(rows):
        for tok in s.split():
            rng = tok[1:].split("-")
            a = int(rng[0])
            b = int(rng[-1])
            mat[r, a:b + 1] = codes_all.index(tok[0])
    ax = pax(xa, xb, htop, hbot)
    ax.imshow(mat, aspect="auto", cmap=cmap, vmin=0, vmax=len(codes_all) - 1, interpolation="nearest",
              extent=(0, n, len(rows), 0))
    ax.vlines(np.arange(n + 1), 0, len(rows), color="white", lw=.25, alpha=.5)
    ax.hlines(np.arange(len(rows) + 1), 0, n, color="white", lw=.8)
    ax.axis("off")
    rh = (hbot - htop) / len(rows)
    for i, g in enumerate(genes):
        yy = htop + (i + .5) * rh
        T(xa - 5, yy, g, ha="right", family=SANS, style="italic", fontsize=9.5)
        T(xb + 1.5, yy, f"{pct[i]}%", family=SANS, fontsize=9.5)
    ax = pax(bx0, bx1, htop, hbot)
    for i, b in enumerate(bars):
        left = 0
        for c, v in zip(codes, b):
            ax.barh(i + .5, v, .9, left=left, color=ONCO_COLORS[c], lw=0)
            left += v
    ax.set_xlim(0, bmax)
    ax.set_ylim(len(bars), 0)
    ax.axis("off")
    fig.add_artist(plt.Line2D([bx0 / W, bx0 / W, bx1 / W, bx1 / W],
                              [1 - (bary - 6) / H, 1 - bary / H, 1 - bary / H, 1 - (bary - 6) / H], color="black", lw=.8))
    T(bx0, bary - 18, "0", family=SANS, fontsize=7.5, ha="center")
    T(bx1, bary - 18, str(bmax), family=SANS, fontsize=7.5, ha="center")
    T((bx0 + bx1) / 2, bary - 8, "No. of samples", family=SANS, fontsize=6.8, ha="center")


oncoplot(A_GENES, A_PCT, A_ROWS, A_BARS, A_BAR_CODES, A_TMB, 245, 75, 619, 74, 155, 161, 505.5, 658.5, 808.4, 147, 157, 2093,
         ("High-NETRS Group", "Alter in 235 (95.92%) of 245 samples."), 377, 379, 53)
oncoplot(B_GENES, B_PCT, B_ROWS, B_BARS, B_BAR_CODES, B_TMB, 241, 889, 1441, 69, 150.5, 158, 505.5, 1480, 1631, 92, 152.5, 3960,
         ("Low-NETRS Group", "Alter in 220 (91.29%) of 241 samples."), 1191, 1199, 52)
LEG = [("Missense_Mutation", "G", 12, 37, 10.8), ("In_Frame_Ins", "I", 179, 205, 11), ("Nonsense_Mutation", "R", 316.6, 344, 11.3),
       ("In_Frame_Del", "Y", 514.6, 541, 11), ("Frame_Shift_Del", "B", 658, 687, 12), ("Translation_Start_Site", "T", 837, 864, 11.6),
       ("Splice_Site", "O", 1035.5, 1065, 11.8), ("Multi_Hit", "K", 1177, 1207, 11.5), ("Frame_Shift_Ins", "P", 1294.5, 1326, 12.8)]
for name, c, mx, tx, fs in LEG:
    fig.patches.append(Rectangle(((mx - 3.5) / W, 1 - 520 / H), 7 / W, 7 / H, transform=fig.transFigure, color=ONCO_COLORS[c]))
    T(tx, 516.5, name, family=SANS, fontsize=fs)

# C
ax = pax(93, 418, 556.7, 899)
xs = []
ys = []
k = 0
for lev, row in zip(C_LEVEL_Y, C_LEVEL_X):
    for v in row:
        xs.append(v)
        ys.append(lev + C_LEVEL_SHIFT[k % len(C_LEVEL_SHIFT)])
        k += 1
xs += C_TOP_X
ys += C_TOP_Y
ax.fill_between(C_FIT_X, C_CI_LO, C_CI_HI, color="#D9D9D9", alpha=.7, lw=0, zorder=1)
ax.scatter(xs, ys, s=56, color=GREEN, alpha=.65, edgecolor=GREEN, linewidth=.7, zorder=2)
ax.plot(C_FIT_X, C_FIT_Y, color=GREEN, lw=2, zorder=3)
ax.set_xlim(-1.31, 1.43)
ax.set_ylim(-.94, 31.3)
ax.set_xticks([-1, -.5, 0, .5, 1])
ax.set_xticklabels(["-1.0", "-0.5", "0.0", "0.5", "1.0"], family=SERIF, fontsize=11.5)
ax.set_yticks([0, 10, 20, 30])
ax.set_yticklabels(["0", "10", "20", "30"], family=SERIF, fontsize=11.5)
for s in ax.spines.values():
    s.set_linewidth(1.6)
ax.tick_params(length=4, width=1.1)
T(255, 943, "NETRS", ha="center", fontsize=13)
T(42, 726, "TMB", rotation=90, ha="center", fontsize=13)
T(402, 574, "Pearson", ha="right", fontsize=11.5)
T(402, 594, "$\\mathit{R}$ = 0.225", ha="right", fontsize=11.5, math_fontfamily="stix")
T(402, 615, "$\\mathit{P}$ < 0.001", ha="right", fontsize=11.5, math_fontfamily="stix")

# D
ax = pax(507, 827, 556.7, 924)
stats = []
for i in range(2):
    stats.append(dict(med=D_MED[i], q1=D_Q1[i], q3=D_Q3[i], whislo=D_WLO[i], whishi=D_WHI[i], fliers=D_FLIERS[i]))
bp = ax.bxp(stats, positions=[0, 1], widths=.8, patch_artist=True, showcaps=False,
            medianprops=dict(color="black", lw=4.5, solid_capstyle="butt"),
            boxprops=dict(lw=1.6), whiskerprops=dict(lw=1.6),
            flierprops=dict(marker="o", markerfacecolor="#808080", markeredgecolor="#808080", alpha=.65, markersize=3))
for b, c in zip(bp["boxes"], [GREEN, ORANGE]):
    b.set_facecolor(c)
ax.set_xlim(-.6, 1.57)
ax.set_ylim(-1.03, 33.5)
style(ax, 1.6)
ax.set_xticks([0, 1])
ax.set_xticklabels(D_LABELS, family=SERIF, fontsize=11.5)
ax.set_yticks([0, 10, 20, 30])
ax.set_yticklabels(["0", "10", "20", "30"], family=SERIF, fontsize=11.5)
ax.tick_params(length=4, width=1.2)
ax.tick_params(axis="x", pad=8)
ax.plot([0, 0, 1, 1], [31.0, 31.4, 31.4, 31.0], color="black", lw=1.4)
ax.text(.5, 31.4, "***", ha="center", va="bottom", family=SERIF, fontsize=11)
T(458, 739, "TMB", rotation=90, ha="center", fontsize=13)


def km(ax, t, s, cens, color, lw=1.7, ms=7):
    t = np.array(t, float)
    s = np.array(s, float)
    ax.step(t, s, where="post", color=color, lw=lw)
    c = np.array(cens, float)
    idx = np.searchsorted(t, c, side="right") - 1
    ax.plot(c, s[np.clip(idx, 0, len(s) - 1)], "+", color=color, ms=ms, mew=.9, alpha=.75)


# E
ax = pax(897, 1224, 560, 827)
km(ax, E_LOW_T, E_LOW_S, E_LOW_CENS, GREEN)
km(ax, E_HIGH_T, E_HIGH_S, E_HIGH_CENS, ORANGE)
ax.set_xlim(-114, 7368)
ax.set_ylim(.2324, 1.018)
style(ax, 1.6)
ax.set_xticks([0, 2000, 4000, 6000])
ax.set_xticklabels(["0", "2000", "4000", "6000"], family=SERIF, fontsize=12.5)
ax.set_yticks([.4, .6, .8, 1.0])
ax.set_yticklabels(["0.4", "0.6", "0.8", "1.0"], family=SERIF, fontsize=12.5)
ax.tick_params(length=4, width=1.2)
ax.tick_params(axis="x", pad=7)
T(1060, 872, "Time", ha="center", fontsize=14.5)
T(841, 693, "Survival probability", rotation=90, ha="center", fontsize=13.5)
T(903, 789, "HR = 1.00 (0.75 - 1.35)", fontsize=12.5)
T(903, 810, "$\\mathit{P}$ = 0.989", fontsize=12.5, math_fontfamily="stix")
T(1157, 570, "TMB", fontsize=13)
for lab, yy, c in (("Low", 592.7, GREEN), ("High", 613, ORANGE)):
    fig.add_artist(plt.Line2D([1159.5 / W, 1176 / W], [1 - yy / H] * 2, color=c, lw=2))
    T(1186, yy, lab, fontsize=13)
RISK_E = [("Low", 907, GREEN, [244, 23, 3, 1]), ("High", 939, ORANGE, [247, 19, 2, 2])]
for lab, yy, c, vals in RISK_E:
    T(882, yy, lab, ha="right", color=c, fontsize=14)
    for xx, v in zip((916, 998, 1072, 1159.5), vals):
        T(xx, yy, str(v), ha="center", color=c, fontsize=12.5)

# F
ax = pax(1298, 1625, 550, 827.7)
F_COL = ["#1F8A55", "#E8891F", PURPLE, PINK]
km(ax, F_GREEN_T, F_GREEN_S, F_GREEN_CENS, F_COL[0], 1.4, 6.5)
km(ax, F_ORANGE_T, F_ORANGE_S, F_ORANGE_CENS, F_COL[1], 1.4, 6.5)
km(ax, F_PURPLE_T, F_PURPLE_S, F_PURPLE_CENS, F_COL[2], 1.4, 6.5)
km(ax, F_PINK_T, F_PINK_S, F_PINK_CENS, F_COL[3], 1.4, 6.5)
ax.set_xlim(-138, 7379)
ax.set_ylim(.166, 1.02)
style(ax, 1.4)
ax.set_xticks([0, 2000, 4000, 6000])
ax.set_xticklabels(["0", "2000", "4000", "6000"], family=SERIF, fontsize=10)
ax.set_yticks([.2, .4, .6, .8, 1.0])
ax.set_yticklabels(["0.2", "0.4", "0.6", "0.8", "1.0"], family=SERIF, fontsize=10)
ax.tick_params(length=4, width=1.1)
ax.tick_params(axis="x", pad=6)
T(1462, 864, "Time", ha="center", fontsize=12)
T(1253, 688, "Survival probability", rotation=90, ha="center", fontsize=11.5)
T(1304, 812.7, "$\\mathit{P}$ < 0.001", fontsize=10, math_fontfamily="stix")
F_NAMES = ["Low NETRS + High TMB", "Low NETRS + Low TMB", "High NETRS + High TMB", "High NETRS + Low TMB"]
F_RISK = [[92, 9, 1, 1], [153, 15, 2, 0], [154, 10, 1, 1], [92, 8, 1, 1]]
for i, (nm, rk, yl, yr) in enumerate(zip(F_NAMES, F_RISK, (556, 572, 588, 604), (892, 908, 924, 939))):
    fig.add_artist(plt.Line2D([1460.7 / W, 1473.7 / W], [1 - yl / H] * 2, color=F_COL[i], lw=2))
    T(1481, yl, nm, fontsize=10)
    T(1450, yr, nm, ha="right", color=F_COL[i], fontsize=13.2)
    for xx, v in zip((1475, 1530, 1579, 1637), rk):
        T(xx, yr, str(v), ha="center", color=F_COL[i], fontsize=12.5)

# G-L violins
V_GEOM = [(46.6, 90, 161.5, 204, (0, 1157.7, 1000, 988.7), 1162.7), (258, 301, 374, 418, (0, 1160, 1500, 998), 1165),
          (452.6, 498, 575, 620, (0, 1160, 15, 986.7), 1165), (656, 702.5, 779, 823, (0, 1158.7, 40, 1006), 1164),
          (870.6, 914, 986.5, 1028, (0, 1162.7, 1000, 986), 1164), (1067.5, 1113.6, 1189, 1231.6, (0, 1160.3, 1, 990.7), 1165.7),
          (1270, 1316, 1393, 1435, (0, 1160.7, 25, 1004), 1166.3), (1474.6, 1520, 1597, 1644.6, (0, 1160, 80, 986.7), 1165)]
V_COL = [GREEN, ORANGE]
for i, (ax0, c1, c2, xr, cal, bot) in enumerate(V_GEOM):
    top = 974
    ax = pax(ax0, xr, top, bot)
    sp = c2 - c1
    ax.set_xlim((ax0 - c1) / sp, (xr - c1) / sp)
    lo, hi = linlim(cal[0], cal[1], cal[2], cal[3], bot, top)
    ax.set_ylim(lo, hi)
    for g in range(2):
        y = np.array(SHAPE_Y[i][g], float)
        w = np.array(SHAPE_W[i][g], float)
        ax.fill_betweenx(y, g - w, g + w, color=V_COL[g], alpha=.45, lw=0, zorder=1)
        ax.plot(np.r_[g - w, (g + w)[::-1], (g - w)[0]], np.r_[y, y[::-1], y[0]], color="#222222", lw=.9, zorder=2)
        vals = np.repeat(PTS_V[i][g], PTS_N[i][g]).astype(float)
        step = np.median(np.diff(PTS_V[i][g]))
        yj = np.array([Y_SPREAD[j % len(Y_SPREAD)] for j in range(len(vals))]) * step * (0 if i == 6 else 1)
        xj = np.array([JITTER[(j * 7 + g) % len(JITTER)] for j in range(len(vals))])
        yv = np.clip(vals + yj, PTS_V[i][g][0], PTS_V[i][g][-1])
        ax.scatter(g + xj, yv, s=18, color=V_COL[g], lw=0, zorder=3)
        m = V_MEANS[i][g]
        ax.plot([g - .11, g + .11], [m, m], color="black", lw=1.1, zorder=4)
        ax.plot([g], [m], "o", ms=3.6, mfc="white", mec="black", mew=.7, zorder=5)
    style(ax, 1.0, "#333333")
    ax.set_xticks([0, 1])
    ax.set_xticklabels(["Low-NETRS", "High-NETRS"], family=SERIF, fontsize=7)
    ax.set_yticks(V_YTICKS[i])
    if i == 5:
        ax.set_yticklabels([f"{v:.1f}" for v in V_YTICKS[i]], family=SERIF, fontsize=7.5)
    else:
        ax.set_yticklabels([str(v) for v in V_YTICKS[i]], family=SERIF, fontsize=7.5)
    ax.tick_params(length=2.5, width=.7, pad=1.5)
    ax.tick_params(axis="x", pad=4)
    yb = 1.0 - (985 - top) / (bot - top)
    tr = ax.get_xaxis_transform()
    ax.plot([0, 0, 1, 1], [yb - .012, yb, yb, yb - .012], transform=tr, color="#333333", lw=.9, clip_on=False)
    ax.text(.5, yb, "***", transform=tr, ha="center", va="bottom", family=SERIF, fontsize=7.5, clip_on=False)
    lab_x = [12, 223, 426, 631, 836, 1040, 1245, 1449][i]
    T(lab_x, (top + bot) / 2 - 2, V_NAMES[i], rotation=90, ha="center", fontsize=8)


# M / N
def cnv(labels, pct, runs, n, x0, x1, top, bot, lab_x, pct_x):
    cmap = ListedColormap(["#CCCCCC", "#F28C1E", "#1B8A5A"])
    mat = np.zeros((len(runs), n), int)
    for r, s in enumerate(runs):
        code = 1 if labels[r].startswith("AP") else 2
        for tok in s.split():
            a, b = tok.split("-")
            mat[r, int(a):int(b)] = code
    ax = pax(x0, x1, top, bot)
    ax.imshow(mat, aspect="auto", cmap=cmap, vmin=0, vmax=2, interpolation="nearest", extent=(0, n, len(runs), 0))
    ax.vlines(np.arange(n + 1), 0, len(runs), color="white", lw=.25, alpha=.35)
    ax.hlines(np.arange(len(runs) + 1), 0, n, color="white", lw=.8)
    ax.axis("off")
    rh = (bot - top) / len(runs)
    for i in range(len(runs)):
        yy = top + (i + .5) * rh
        T(lab_x, yy, labels[i], ha="right", family=SANS, style="italic", fontsize=7.4)
        T(pct_x, yy, f"{pct[i]}%", family=SANS, style="italic", fontsize=7.4)


cnv(M_LABELS, M_PCT, M_RUNS, 245, 86, 785, 1206.7, 1642.7, 80.5, 791)
cnv(N_LABELS, N_PCT, N_RUNS, 241, 916.6, 1618, 1205, 1643, 910, 1625)
for (p1, t1, p2, t2, yy) in ((94, 110, 195, 210, 1196), (920, 936, 1028, 1044, 1194)):
    fig.patches.append(Rectangle((p1 / W, 1 - (yy + 7) / H), 13 / W, 14 / H, transform=fig.transFigure, color="#E5872A"))
    T(t1, yy, "Amplification", fontsize=7.6)
    fig.patches.append(Rectangle((p2 / W, 1 - (yy + 7) / H), 13 / W, 14 / H, transform=fig.transFigure, color=GREEN))
    T(t2, yy, "Deletion", fontsize=7.6)


# O / P
def gscore(x0, x1, top, bot, xlim, cal, gamp, gdel, spos, sh, apos, ah, aw, dpos, dh, dw, lab_x, spine_color):
    ax = pax(x0, x1, top, bot)
    starts = np.r_[0, np.cumsum(CHROM_LEN)[:-1]]
    for src, sign in ((gamp, 1), (gdel, -1)):
        xx = []
        yy = []
        for ci, vals in enumerate(src):
            w = CHROM_LEN[ci] / len(vals)
            xx += list(starts[ci] + (np.arange(len(vals)) + .5) * w)
            yy += list(vals)
        xx = [0] + xx + [starts[22]]
        yy = [yy[0]] + yy + [yy[-1]]
        ax.fill_between(xx, 0, sign * np.array(yy), color="#B3B3B3", lw=0, zorder=2)
    ax.bar(spos, sh, 4, color="#B3B3B3", edgecolor="#B3B3B3", lw=.5, zorder=2)
    ax.bar(apos, ah, aw, color="#EF8209", edgecolor="#EF8209", lw=.6, zorder=3)
    ax.bar(dpos, -np.array(dh), dw, color="#0F8A50", edgecolor="#0F8A50", lw=.6, zorder=3)
    for b in np.r_[starts, sum(CHROM_LEN)]:
        ax.axvline(b, color="#E4E4E4", lw=.7, ls=(0, (3, 4)), zorder=1)
    for v in (-.6, -.4, -.2, .2, .4, .6):
        ax.axhline(v, color="#E4E4E4", lw=.7, ls=(0, (3, 4)), zorder=1)
    for ci, (nm, ln, st) in enumerate(zip(CHROM_NAMES, CHROM_LEN, starts)):
        blk = ci % 2 == 0
        ax.add_patch(Rectangle((st, -.0117), ln, .0234, fc="black" if blk else "white", ec="black", lw=.6, zorder=5))
        ax.text(st + ln / 2, 0, nm, ha="center", va="center", fontsize=5, family=SANS, color="white" if blk else "black", zorder=6)
    ax.set_xlim(*xlim)
    ax.set_ylim(*linlim(cal[0], cal[1], cal[2], cal[3], bot, top))
    for s in ("top", "right", "bottom"):
        ax.spines[s].set_visible(False)
    ax.spines["left"].set_bounds(-.6, .6)
    ax.spines["left"].set_color(spine_color)
    ax.set_xticks([])
    ax.set_yticks([-.6, -.4, -.2, 0, .2, .4, .6])
    ax.set_yticklabels(["−0.6", "−0.4", "−0.2", "0.0", "0.2", "0.4", "0.6"], family=SANS, fontsize=11)
    ax.tick_params(length=7, width=.9, color=spine_color)
    ax.patch.set_alpha(0)
    T(lab_x, cal[1], "G−Score", rotation=90, ha="center", family=SANS, fontsize=13)


gscore(75.7, 830, 1660, 2068, (-120, 3196), (0, 1874.3, .6, 1694.3), O_GRAY_AMP, O_GRAY_DEL, O_SPIKE_POS, O_SPIKE_H, O_AMP_POS, O_AMP_H, O_AMP_W,
       O_DEL_POS, O_DEL_H, O_DEL_W, 14, "black")
gscore(905, 1654, 1657, 2068, (-124, 3120), (0, 1873.3, .6, 1690.7), P_GRAY_AMP, P_GRAY_DEL, P_SPIKE_POS, P_SPIKE_H, P_AMP_POS, P_AMP_H, P_AMP_W,
       P_DEL_POS, P_DEL_H, P_DEL_W, 846, "#444444")

fig.savefig("out.png", dpi=100)
